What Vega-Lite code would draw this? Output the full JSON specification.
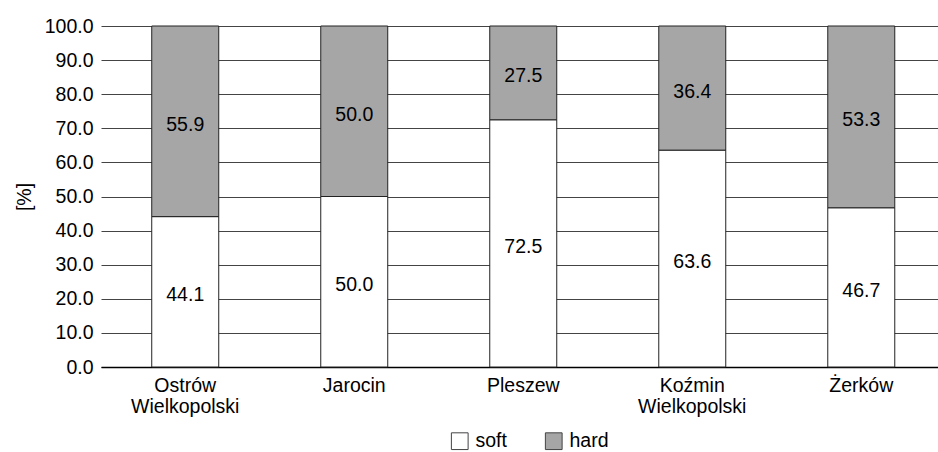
{
  "$schema": "https://vega.github.io/schema/vega-lite/v6.json",
  "autosize": {"type": "none"},
  "padding": {"left": 101, "top": 26, "right": 0, "bottom": 85},
  "width": 837,
  "height": 341,
  "background": "white",
  "config": {
    "font": "Liberation Sans",
    "view": {"stroke": null},
    "axisY": {
      "titleFontSize": 19.5,
      "titleFontWeight": "normal",
      "titleColor": "#000",
      "titlePadding": 10,
      "labelFontSize": 19.5,
      "labelColor": "#000",
      "labelPadding": 8,
      "labelOverlap": false,
      "ticks": false,
      "domain": false,
      "grid": true,
      "gridColor": "#444",
      "gridWidth": 1.2,
      "gridOpacity": 1
    }
  },
  "data": {
    "values": [
      {"town": "Ostrów Wielkopolski", "type": "soft", "ord": 1, "value": 44.1},
      {"town": "Ostrów Wielkopolski", "type": "hard", "ord": 2, "value": 55.9},
      {"town": "Jarocin", "type": "soft", "ord": 1, "value": 50.0},
      {"town": "Jarocin", "type": "hard", "ord": 2, "value": 50.0},
      {"town": "Pleszew", "type": "soft", "ord": 1, "value": 72.5},
      {"town": "Pleszew", "type": "hard", "ord": 2, "value": 27.5},
      {"town": "Koźmin Wielkopolski", "type": "soft", "ord": 1, "value": 63.6},
      {"town": "Koźmin Wielkopolski", "type": "hard", "ord": 2, "value": 36.4},
      {"town": "Żerków", "type": "soft", "ord": 1, "value": 46.7},
      {"town": "Żerków", "type": "hard", "ord": 2, "value": 53.3}
    ]
  },
  "transform": [
    {"stack": "value", "groupby": ["town"], "sort": [{"field": "ord"}], "as": ["v0", "v1"]},
    {"calculate": "(datum.v0 + datum.v1) / 2", "as": "mid"}
  ],
  "encoding": {
    "x": {
      "field": "town",
      "type": "nominal",
      "sort": null,
      "scale": {"paddingInner": 0.6036, "paddingOuter": 0.278, "align": 0.54},
      "axis": {
        "title": null,
        "labelAngle": 0,
        "labelExpr": "split(datum.value, ' ')",
        "labelFontSize": 19.5,
        "labelColor": "#000",
        "labelPadding": 9,
        "labelLineHeight": 21,
        "labelOverlap": false,
        "ticks": false,
        "domain": true,
        "domainColor": "#000",
        "domainWidth": 1.5
      }
    }
  },
  "layer": [
    {
      "mark": {"type": "bar", "stroke": "#222", "strokeWidth": 1},
      "encoding": {
        "y": {
          "field": "v0",
          "type": "quantitative",
          "scale": {"domain": [0, 100], "nice": false},
          "axis": {
            "title": "[%]",
            "values": [0, 10, 20, 30, 40, 50, 60, 70, 80, 90, 100],
            "format": ".1f"
          }
        },
        "y2": {"field": "v1"},
        "fill": {
          "field": "type",
          "type": "nominal",
          "scale": {"domain": ["soft", "hard"], "range": ["#ffffff", "#a6a6a6"]},
          "legend": {
            "title": null,
            "orient": "none",
            "legendX": 349,
            "legendY": 405,
            "direction": "horizontal",
            "symbolType": "square",
            "symbolSize": 280,
            "symbolStrokeColor": "#444",
            "symbolStrokeWidth": 1,
            "labelFontSize": 19.5,
            "labelColor": "#000",
            "columnPadding": 36,
            "labelOffset": 6
          }
        }
      }
    },
    {
      "mark": {"type": "text", "fontSize": 19.5, "color": "#000", "baseline": "middle", "dy": 3.5},
      "encoding": {
        "y": {
          "field": "mid",
          "type": "quantitative",
          "axis": {
            "title": "[%]",
            "values": [0, 10, 20, 30, 40, 50, 60, 70, 80, 90, 100],
            "format": ".1f"
          }
        },
        "text": {"field": "value", "type": "quantitative", "format": ".1f"}
      }
    }
  ]
}
